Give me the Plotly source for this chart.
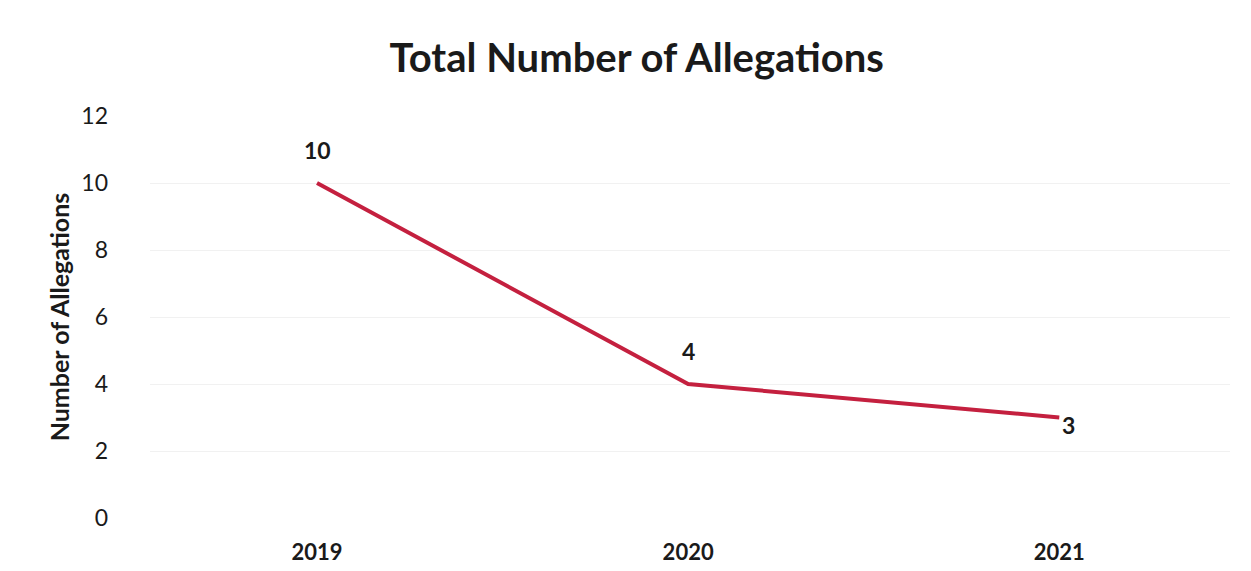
import plotly.graph_objects as go

years = ["2019", "2020", "2021"]
allegations = [10, 4, 3]
y_ticks = [0, 2, 4, 6, 8, 10, 12]

x_pos = list(range(len(years)))

fig = go.Figure()
fig.add_trace(go.Scatter(
    x=x_pos, y=allegations, mode="lines",
    line=dict(color="#c4203f", width=4),
    hoverinfo="skip", showlegend=False,
))

# data labels
label_pos = [("center", 0, 33), ("center", 0, 33), ("left", 1, -7)]
for xv, yv, (anc, dx, dy) in zip(x_pos, allegations, label_pos):
    fig.add_annotation(x=xv, y=yv, text=f"<b>{yv}</b>", showarrow=False,
                       xanchor=anc, xshift=dx, yshift=dy,
                       font=dict(family="Lato", size=23, color="#1a1a1a"))

fig.update_layout(
    width=1251, height=571,
    paper_bgcolor="white", plot_bgcolor="white",
    margin=dict(l=150, r=21, t=116, b=53),
    title=dict(text="<b>Total Number of Allegations</b>", x=0.509, xanchor="center",
               y=0.898, yanchor="middle",
               font=dict(family="Lato", size=40, color="#1a1a1a")),
    xaxis=dict(range=[-0.45, 2.46], tickmode="array", tickvals=x_pos,
               ticktext=[f"<b>{y}</b>" for y in years],
               showgrid=False, zeroline=False, showline=False, automargin=False,
               ticks="", ticklabelstandoff=19,
               tickfont=dict(family="Lato", size=22, color="#1a1a1a")),
    yaxis=dict(range=[0, 12], tickmode="array", tickvals=y_ticks,
               showgrid=True, gridcolor="#f1f1f1", gridwidth=1, automargin=False,
               zeroline=False, showline=False, ticks="", ticklabelstandoff=41,
               tickfont=dict(family="Lato", size=23, color="#1a1a1a"),
               title=dict(text="<b>Number of Allegations</b>", standoff=4,
                          font=dict(family="Lato", size=25, color="#1a1a1a"))),
)

fig.write_html("out.html", config={"displayModeBar": False},
               post_script="document.body.style.margin='0';")
